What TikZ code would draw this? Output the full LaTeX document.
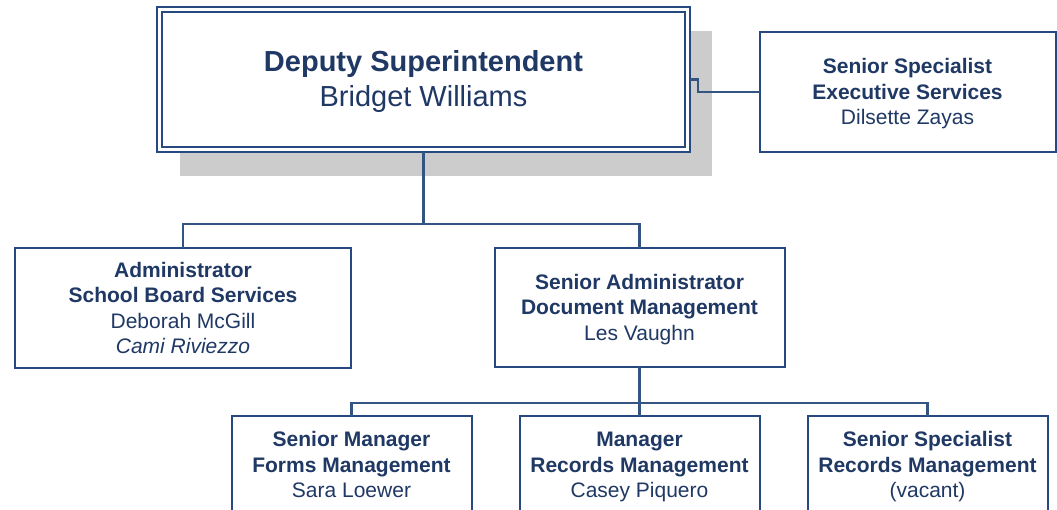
\documentclass[tikz,border=0pt]{standalone}
\usepackage{fontspec}
\setmainfont{Liberation Sans}
\usetikzlibrary{backgrounds}
\definecolor{linec}{RGB}{38,74,128}
\definecolor{connc}{RGB}{52,84,130}
\definecolor{textc}{RGB}{31,56,100}
\definecolor{shadowc}{RGB}{204,204,204}
\newcommand{\firststrut}{\rule{0pt}{20pt}}
\newcommand{\laststrut}{\rule[-5pt]{0pt}{5pt}}
\newcommand{\bigfirststrut}{\rule{0pt}{26.4pt}}
\newcommand{\biglaststrut}{\rule[-7pt]{0pt}{7pt}}
\begin{document}
\begin{tikzpicture}[x=1pt,y=-1pt,
  box/.style={draw=linec, line width=2pt, fill=white, text=textc, align=center,
    inner sep=0pt, outer sep=0pt, font=\fontsize{21}{25.5}\selectfont},
  topbox/.style={box, line width=2.2pt, font=\fontsize{29}{35}\selectfont},
  innerline/.style={draw=linec, line width=1.2pt},
  shadowfill/.style={fill=shadowc},
  conn/.style={draw=connc, line width=2.1pt}]
\useasboundingbox (0,0) rectangle (1057,510);
\clip (0,0) rectangle (1057,510);

% top box
\node[topbox, minimum width=533pt, minimum height=145pt] (top) at (423.5,79.5)
  {\bigfirststrut\textbf{Deputy Superintendent}\\Bridget Williams\biglaststrut};
\draw[innerline] ([xshift=5pt,yshift=-5pt]top.north west) rectangle ([xshift=-5pt,yshift=5pt]top.south east);
\begin{scope}[on background layer]
  \fill[shadowfill] ([xshift=23pt,yshift=-24pt]top.north west) rectangle ([xshift=22pt,yshift=-24pt]top.south east);
\end{scope}

% right box
\node[box, minimum width=296pt, minimum height=120pt] (right) at (907.5,92)
  {\firststrut\textbf{Senior Specialist}\\\textbf{Executive Services}\\Dilsette Zayas\laststrut};

% second row
\node[box, minimum width=336pt, minimum height=120pt] (left) at (183,308)
  {\firststrut\textbf{Administrator}\\\textbf{School Board Services}\\Deborah McGill\\\textit{Cami Riviezzo}\laststrut};
\node[box, minimum width=290pt, minimum height=119pt] (mid) at (639.5,307.5)
  {\firststrut\textbf{Senior Administrator}\\\textbf{Document Management}\\Les Vaughn\laststrut};

% third row
\node[box, minimum width=240pt, minimum height=98pt] (b1) at (351.5,464.5)
  {\firststrut\textbf{Senior Manager}\\\textbf{Forms Management}\\Sara Loewer\laststrut};
\node[box, minimum width=240pt, minimum height=98pt] (b2) at (639.5,464.5)
  {\firststrut\textbf{Manager}\\\textbf{Records Management}\\Casey Piquero\laststrut};
\node[box, minimum width=240pt, minimum height=98pt] (b3) at (927.5,464.5)
  {\firststrut\textbf{Senior Specialist}\\\textbf{Records Management}\\(vacant)\laststrut};

% connectors
\coordinate (bus1) at (423.5,224);
\coordinate (bus2) at (639.5,403);
\draw[conn] (top.east) -- ++(8,0) |- (right.west);
\draw[conn] (top.south) -- (bus1);
\draw[conn] (left.north) -- (left.north |- bus1) -- (mid.north |- bus1) -- (mid.north);
\draw[conn] (mid.south) -- (bus2);
\draw[conn] (b1.north) -- (b1.north |- bus2) -- (b3.north |- bus2) -- (b3.north);
\draw[conn] (b2.north) -- (bus2);
\end{tikzpicture}
\end{document}
